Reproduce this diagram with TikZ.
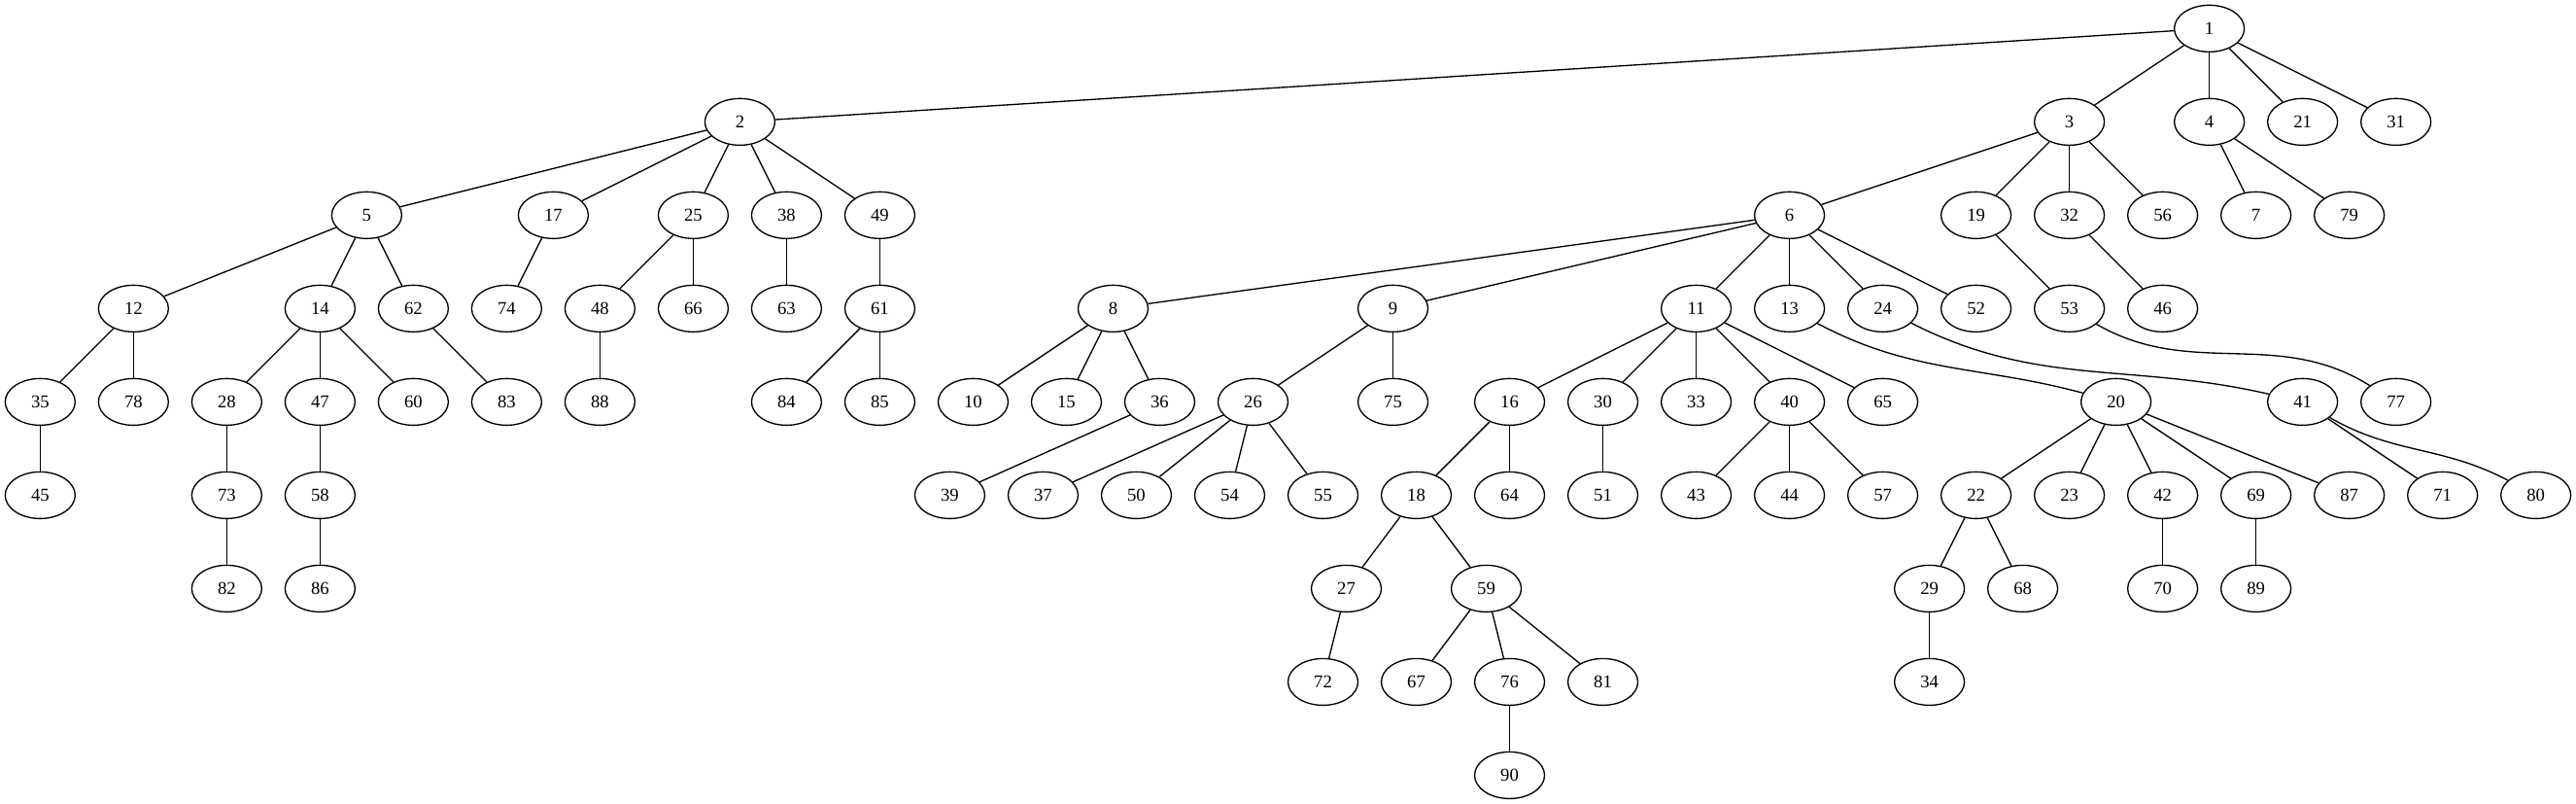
\documentclass[tikz,border=0pt]{standalone}
\usepackage{fontspec}
\setmainfont{Liberation Serif}
\usetikzlibrary{shapes.geometric}
\tikzset{
  nd/.style={draw, ellipse, line width=1bp, minimum width=54bp, minimum height=36bp, inner sep=0pt, font=\fontsize{14bp}{16bp}\selectfont},
  edge/.style={line width=1bp}
}
\begin{document}
\begin{tikzpicture}[x=72bp, y=-72bp]
\useasboundingbox (-31bp,22bp) rectangle (1957bp,-598bp);
% rank 0
\node[nd] (n1) at (23.25,0) {1};
% rank 1
\node[nd] (n2) at (7.5,1) {2};
\node[nd] (n3) at (21.75,1) {3};
\node[nd] (n4) at (23.25,1) {4};
\node[nd] (n21) at (24.25,1) {21};
\node[nd] (n31) at (25.25,1) {31};
% rank 2
\node[nd] (n5) at (3.5,2) {5};
\node[nd] (n17) at (5.5,2) {17};
\node[nd] (n25) at (7,2) {25};
\node[nd] (n38) at (8,2) {38};
\node[nd] (n49) at (9,2) {49};
\node[nd] (n6) at (18.75,2) {6};
\node[nd] (n19) at (20.75,2) {19};
\node[nd] (n32) at (21.75,2) {32};
\node[nd] (n56) at (22.75,2) {56};
\node[nd] (n7) at (23.75,2) {7};
\node[nd] (n79) at (24.75,2) {79};
% rank 3
\node[nd] (n12) at (1,3) {12};
\node[nd] (n14) at (3,3) {14};
\node[nd] (n62) at (4,3) {62};
\node[nd] (n74) at (5,3) {74};
\node[nd] (n48) at (6,3) {48};
\node[nd] (n66) at (7,3) {66};
\node[nd] (n63) at (8,3) {63};
\node[nd] (n61) at (9,3) {61};
\node[nd] (n8) at (11.5,3) {8};
\node[nd] (n9) at (14.5,3) {9};
\node[nd] (n11) at (17.75,3) {11};
\node[nd] (n13) at (18.75,3) {13};
\node[nd] (n24) at (19.75,3) {24};
\node[nd] (n52) at (20.75,3) {52};
\node[nd] (n53) at (21.75,3) {53};
\node[nd] (n46) at (22.75,3) {46};
% rank 4
\node[nd] (n35) at (0,4) {35};
\node[nd] (n78) at (1,4) {78};
\node[nd] (n28) at (2,4) {28};
\node[nd] (n47) at (3,4) {47};
\node[nd] (n60) at (4,4) {60};
\node[nd] (n83) at (5,4) {83};
\node[nd] (n88) at (6,4) {88};
\node[nd] (n84) at (8,4) {84};
\node[nd] (n85) at (9,4) {85};
\node[nd] (n10) at (10,4) {10};
\node[nd] (n15) at (11,4) {15};
\node[nd] (n36) at (12,4) {36};
\node[nd] (n26) at (13,4) {26};
\node[nd] (n75) at (14.5,4) {75};
\node[nd] (n16) at (15.75,4) {16};
\node[nd] (n30) at (16.75,4) {30};
\node[nd] (n33) at (17.75,4) {33};
\node[nd] (n40) at (18.75,4) {40};
\node[nd] (n65) at (19.75,4) {65};
\node[nd] (n20) at (22.25,4) {20};
\node[nd] (n41) at (24.25,4) {41};
\node[nd] (n77) at (25.25,4) {77};
% rank 5
\node[nd] (n45) at (0,5) {45};
\node[nd] (n73) at (2,5) {73};
\node[nd] (n58) at (3,5) {58};
\node[nd] (n39) at (9.75,5) {39};
\node[nd] (n37) at (10.75,5) {37};
\node[nd] (n50) at (11.75,5) {50};
\node[nd] (n54) at (12.75,5) {54};
\node[nd] (n55) at (13.75,5) {55};
\node[nd] (n18) at (14.75,5) {18};
\node[nd] (n64) at (15.75,5) {64};
\node[nd] (n51) at (16.75,5) {51};
\node[nd] (n43) at (17.75,5) {43};
\node[nd] (n44) at (18.75,5) {44};
\node[nd] (n57) at (19.75,5) {57};
\node[nd] (n22) at (20.75,5) {22};
\node[nd] (n23) at (21.75,5) {23};
\node[nd] (n42) at (22.75,5) {42};
\node[nd] (n69) at (23.75,5) {69};
\node[nd] (n87) at (24.75,5) {87};
\node[nd] (n71) at (25.75,5) {71};
\node[nd] (n80) at (26.75,5) {80};
% rank 6
\node[nd] (n82) at (2,6) {82};
\node[nd] (n86) at (3,6) {86};
\node[nd] (n27) at (14,6) {27};
\node[nd] (n59) at (15.5,6) {59};
\node[nd] (n29) at (20.25,6) {29};
\node[nd] (n68) at (21.25,6) {68};
\node[nd] (n70) at (22.75,6) {70};
\node[nd] (n89) at (23.75,6) {89};
% rank 7
\node[nd] (n72) at (13.75,7) {72};
\node[nd] (n67) at (14.75,7) {67};
\node[nd] (n76) at (15.75,7) {76};
\node[nd] (n81) at (16.75,7) {81};
\node[nd] (n34) at (20.25,7) {34};
% rank 8
\node[nd] (n90) at (15.75,8) {90};
% edges
\foreach \a/\b in {1/2,1/3,1/4,1/21,1/31,
  2/5,2/17,2/25,2/38,2/49,
  3/6,3/19,3/32,3/56,
  4/7,4/79,
  5/12,5/14,5/62,
  17/74,25/48,25/66,38/63,49/61,
  6/8,6/9,6/11,6/13,6/24,6/52,
  19/53,32/46,
  12/35,12/78,14/28,14/47,14/60,62/83,48/88,61/84,61/85,
  8/10,8/15,8/36,9/26,9/75,
  11/16,11/30,11/33,11/40,11/65,
  35/45,28/73,47/58,36/39,
  26/37,26/50,26/54,26/55,
  16/18,16/64,30/51,40/43,40/44,40/57,
  20/22,20/23,20/42,20/69,20/87,41/71,
  73/82,58/86,18/27,18/59,22/29,22/68,42/70,69/89,
  27/72,59/67,59/76,59/81,29/34,76/90}
  \draw[edge] (n\a) -- (n\b);
\draw[edge] (n13) to[out=-28, in=165] (n20);
\draw[edge] (n24) to[out=-27, in=167] (n41);
\draw[edge] (n53) to[out=-30, in=148] (n77);
\draw[edge] (n41) to[out=-30, in=152] (n80);
\end{tikzpicture}
\end{document}
